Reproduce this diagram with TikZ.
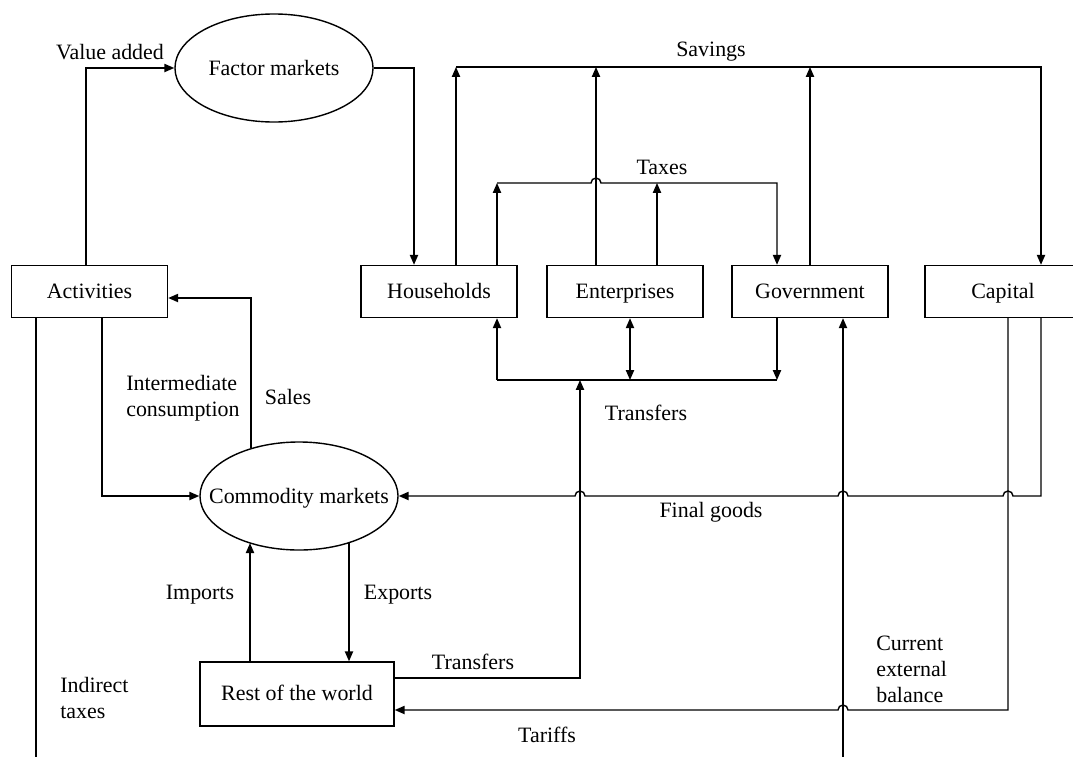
\documentclass[tikz,border=0pt]{standalone}
\usepackage{fontspec}
\setmainfont{Liberation Serif}
\usetikzlibrary{shapes.geometric,arrows.meta,calc}
\begin{document}
\begin{tikzpicture}[x=0.025cm,y=0.025cm,
  every node/.style={font=\fontsize{15.6pt}{18.6pt}\selectfont},
  box/.style={draw,line width=1pt,rectangle,minimum width=3.9cm,minimum height=1.3cm,inner sep=0pt,text height=12.5pt,text depth=1.9pt},
  mkt/.style={draw,line width=1pt,ellipse,minimum width=4.95cm,minimum height=2.7cm,inner sep=0pt,text height=12.3pt,text depth=1.7pt},
  lbl/.style={inner sep=0pt},
  conn/.style={line width=1pt},
  arr/.style={conn,-{Triangle[length=7pt,width=5.8pt]}},
  darr/.style={conn,{Triangle[length=7pt,width=5.8pt]}-{Triangle[length=7pt,width=5.8pt]}}
]
\useasboundingbox (0,0) rectangle (1073,-757);
\clip (0,0) rectangle (1073,-757);

% nodes
\node[mkt] (fm) at (274,-68) {\makebox[0pt]{Factor markets}};
\node[mkt] (cm) at (299,-496) {\makebox[0pt]{Commodity markets}};
\node[box] (act) at (89.5,-291.5) {Activities};
\node[box] (hh) at (439,-291.5) {Households};
\node[box] (ent) at (625,-291.5) {Enterprises};
\node[box] (gov) at (810,-291.5) {Government};
\node[box] (cap) at (1003,-291.5) {Capital};
\node[box,minimum width=4.85cm,minimum height=1.6cm,text height=11.5pt,text depth=2.9pt] (row) at (297,-694) {Rest of the world};

% columns
\coordinate (cIT) at (36,0);
\coordinate (cVA) at (86,0);
\coordinate (cIC) at (102,0);
\coordinate (cImp) at (250,0);
\coordinate (cSal) at (251,0);
\coordinate (cExp) at (349,0);
\coordinate (cFM) at (414,0);
\coordinate (cHS) at (456,0);
\coordinate (cHT) at (497,0);
\coordinate (cRT) at (580,0);
\coordinate (cES) at (596,0);
\coordinate (cET) at (630,0);
\coordinate (cETx) at (657,0);
\coordinate (cGT) at (777,0);
\coordinate (cGS) at (810,0);
\coordinate (cGB) at (843,0);
\coordinate (cCB) at (1008,0);
\coordinate (cCS) at (1041,0);
% rows
\coordinate (rSav) at (0,-67);
\coordinate (rTax) at (0,-183);
\coordinate (rSal) at (0,-298);
\coordinate (rTr) at (0,-380);
\coordinate (rRT) at (0,-678);
\coordinate (rCEB) at (0,-710);
\coordinate (bot) at (0,-762);

% value added / factor markets
\draw[arr] (act.north -| cVA) |- (fm.west);
\draw[arr] (fm.east) -| (hh.north -| cFM);

% savings
\draw[arr] (hh.north -| cHS) -- (cHS |- rSav);
\draw[arr] (ent.north -| cES) -- (cES |- rSav);
\draw[arr] (gov.north -| cGS) -- (cGS |- rSav);
\draw[arr] (cHS |- rSav) -| (cap.north -| cCS);

% taxes
\draw[arr] (hh.north -| cHT) -- (cHT |- rTax);
\draw[arr] (ent.north -| cETx) -- (cETx |- rTax);
\draw[arr] (cHT |- rTax) -- ($(cES |- rTax)+(-5,0)$)
  arc[start angle=180,end angle=0,radius=0.125cm]
  -- (cGT |- rTax) -- (gov.north -| cGT);

% transfers among institutions
\draw[conn] (cHT |- rTr) -- (cGT |- rTr);
\draw[arr] (cHT |- rTr) -- (hh.south -| cHT);
\draw[darr] (ent.south -| cET) -- (cET |- rTr);
\draw[arr] (gov.south -| cGT) -- (cGT |- rTr);

% activities / commodity markets
\draw[arr] (act.south -| cIC) |- (cm.west);
\draw[arr] (cm.135.5 -| cSal) |- (act.east |- rSal);
\draw[conn] (act.south -| cIT) -- (cIT |- bot);

% rest of the world
\draw[arr] (row.north -| cImp) -- (cm.223.7 -| cImp);
\draw[arr] (cm.-43 -| cExp) -- (row.north -| cExp);
\draw[arr] (row.east |- rRT) -| (cRT |- rTr);

% capital flows
\draw[arr] (cap.south -| cCS) -- (cCS |- cm.east)
  -- ($(cCB |- cm.east)+(5,0)$) arc[start angle=0,end angle=180,radius=0.125cm]
  -- ($(cGB |- cm.east)+(5,0)$) arc[start angle=0,end angle=180,radius=0.125cm]
  -- ($(cRT |- cm.east)+(5,0)$) arc[start angle=0,end angle=180,radius=0.125cm]
  -- (cm.east);
\draw[arr] (cap.south -| cCB) -- (cCB |- rCEB)
  -- ($(cGB |- rCEB)+(5,0)$) arc[start angle=0,end angle=180,radius=0.125cm]
  -- (row.east |- rCEB);
\draw[arr] (cGB |- bot) -- (gov.south -| cGB);

% labels
\node[lbl] (lVA) at (110,-52) {Value added};
\node[lbl] (lSav) at (711,-52) {Savings};
\node[lbl] (lTax) at (662,-167) {Taxes};
\node[lbl,anchor=west,align=left] (lIC) at (126,-398.5) {Intermediate\\consumption};
\node[lbl] (lSal) at (288,-397) {Sales};
\node[lbl] (lTr1) at (646,-413) {Transfers};
\node[lbl] (lFG) at (711,-512) {Final goods};
\node[lbl] (lImp) at (200,-595) {Imports};
\node[lbl] (lExp) at (398,-595) {Exports};
\node[lbl] (lTr2) at (473,-662) {Transfers};
\node[lbl,anchor=west,align=left] (lIT) at (60,-698) {Indirect\\taxes};
\node[lbl,anchor=west,align=left] (lCEB) at (876,-669) {Current\\external\\balance};
\node[lbl] (lTar) at (547,-735) {Tariffs};
\end{tikzpicture}
\end{document}
